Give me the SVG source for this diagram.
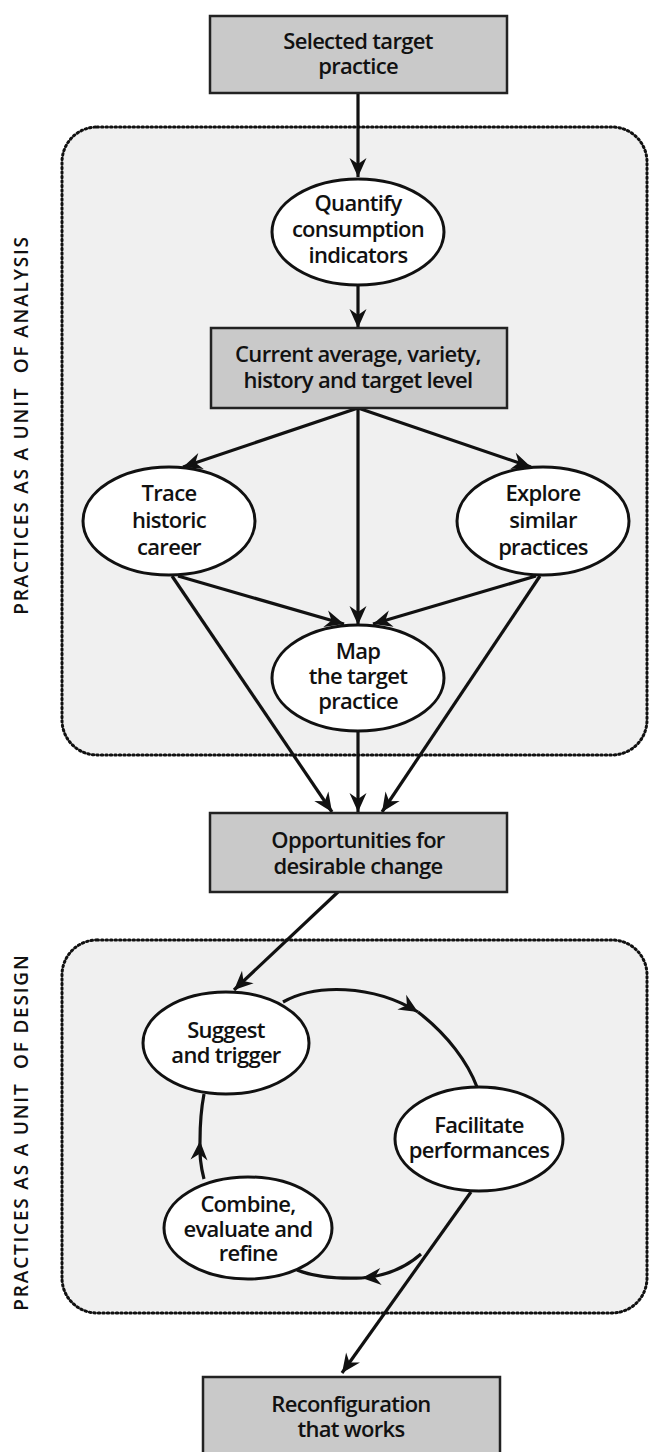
<svg xmlns="http://www.w3.org/2000/svg" width="650" height="1452" viewBox="0 0 650 1452">
<style>
.region{fill:#f0f0f0;stroke:#111;stroke-width:3;stroke-dasharray:1.5 3;stroke-linecap:round}
.box{fill:#c9c9c9;stroke:#222;stroke-width:2.5}
.ell{fill:#fff;stroke:#111;stroke-width:3}
.t{font-family:"Open Sans","Noto Sans",sans-serif;font-weight:600;font-size:22px;fill:#111;text-anchor:middle;letter-spacing:-0.7px}
.lab{font-family:"Open Sans","Noto Sans",sans-serif;font-weight:600;font-size:19px;fill:#111;text-anchor:middle;letter-spacing:1.8px;white-space:pre}
.c{fill:none;stroke:#111;stroke-width:3.2}
</style>
<defs>
<marker id="ah" markerUnits="userSpaceOnUse" markerWidth="26" markerHeight="22" viewBox="-21 -11 24 22" refX="0" refY="0" orient="auto">
<path d="M0,0 L-19,-8.5 L-13,0 L-19,8.5 Z" fill="#111"/>
</marker>
</defs>
<rect width="650" height="1452" fill="#fff"/>
<g id="region-analysis">
<rect class="region" x="62" y="127" width="585" height="628" rx="35"/>
<text class="lab" transform="translate(28,425) rotate(-90)">PRACTICES AS A UNIT  OF ANALYSIS</text>
</g>
<g id="region-design">
<rect class="region" x="62" y="940" width="585" height="373" rx="35"/>
<text class="lab" transform="translate(28,1132) rotate(-90)">PRACTICES AS A UNIT  OF DESIGN</text>
</g>
<g id="connectors">
<path class="c" d="M358,93 L358,177" marker-end="url(#ah)"/>
<path class="c" d="M358,285 L358,328" marker-end="url(#ah)"/>
<path class="c" d="M358,408 L183,467" marker-end="url(#ah)"/>
<path class="c" d="M358,408 L531,467" marker-end="url(#ah)"/>
<path class="c" d="M358,408 L358,625" marker-end="url(#ah)"/>
<path class="c" d="M178,576 L344,624" marker-end="url(#ah)"/>
<path class="c" d="M536,576 L373,624" marker-end="url(#ah)"/>
<path class="c" d="M172,576 L332,812" marker-end="url(#ah)"/>
<path class="c" d="M358,730 L358,812" marker-end="url(#ah)"/>
<path class="c" d="M540,576 L382,812" marker-end="url(#ah)"/>
<path class="c" d="M338,892 L234,990" marker-end="url(#ah)"/>
<path class="c" d="M283,1002 C315,984 372,984 418,1012" marker-end="url(#ah)"/>
<path class="c" d="M418,1012 C448,1035 468,1063 477,1087"/>
<path class="c" d="M471,1192 L342,1373" marker-end="url(#ah)"/>
<path class="c" d="M421,1254 C404,1269 386,1276 362,1278" marker-end="url(#ah)"/>
<path class="c" d="M362,1278 C335,1279 312,1276 297,1270"/>
<path class="c" d="M204,1179 Q199,1160 200,1141" marker-end="url(#ah)"/>
<path class="c" d="M200,1141 Q200,1115 204,1094"/>
</g>
<g id="selected">
<rect class="box" x="210" y="16" width="297" height="77"/>
<text class="t" x="358" y="49">Selected target</text>
<text class="t" x="358" y="74">practice</text>
</g>
<g id="quantify">
<ellipse class="ell" cx="358" cy="232" rx="86" ry="53"/>
<text class="t" x="358" y="211">Quantify</text>
<text class="t" x="358" y="237">consumption</text>
<text class="t" x="358" y="263">indicators</text>
</g>
<g id="current">
<rect class="box" x="211" y="328" width="296" height="80"/>
<text class="t" x="358" y="362">Current average, variety,</text>
<text class="t" x="358" y="388">history and target level</text>
</g>
<g id="trace">
<ellipse class="ell" cx="169" cy="521" rx="86" ry="54"/>
<text class="t" x="169" y="501">Trace</text>
<text class="t" x="169" y="528">historic</text>
<text class="t" x="169" y="555">career</text>
</g>
<g id="explore">
<ellipse class="ell" cx="543" cy="521" rx="86" ry="54"/>
<text class="t" x="543" y="501">Explore</text>
<text class="t" x="543" y="528">similar</text>
<text class="t" x="543" y="555">practices</text>
</g>
<g id="map">
<ellipse class="ell" cx="358" cy="678" rx="86" ry="53"/>
<text class="t" x="358" y="659">Map</text>
<text class="t" x="358" y="684">the target</text>
<text class="t" x="358" y="709">practice</text>
</g>
<g id="opportunities">
<rect class="box" x="210" y="813" width="297" height="79"/>
<text class="t" x="358" y="848">Opportunities for</text>
<text class="t" x="358" y="874">desirable change</text>
</g>
<g id="suggest">
<ellipse class="ell" cx="226" cy="1043" rx="83" ry="51"/>
<text class="t" x="226" y="1038">Suggest</text>
<text class="t" x="226" y="1063">and trigger</text>
</g>
<g id="facilitate">
<ellipse class="ell" cx="479" cy="1139" rx="84" ry="52"/>
<text class="t" x="479" y="1133">Facilitate</text>
<text class="t" x="479" y="1158">performances</text>
</g>
<g id="combine">
<ellipse class="ell" cx="248" cy="1228" rx="84" ry="51"/>
<text class="t" x="248" y="1212">Combine,</text>
<text class="t" x="248" y="1237">evaluate and</text>
<text class="t" x="248" y="1261">refine</text>
</g>
<g id="reconfiguration">
<rect class="box" x="203" y="1377" width="297" height="90"/>
<text class="t" x="351" y="1412">Reconfiguration</text>
<text class="t" x="351" y="1437">that works</text>
</g>
</svg>
